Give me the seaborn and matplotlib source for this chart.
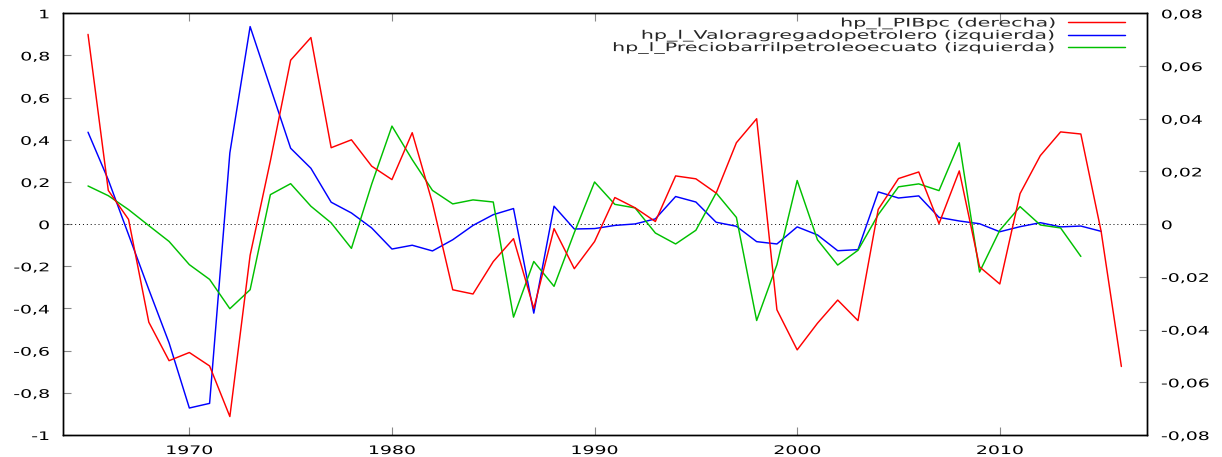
import numpy as np
import pandas as pd
import matplotlib
matplotlib.use("Agg")
import matplotlib.pyplot as plt
import seaborn as sns
from matplotlib.patheffects import AbstractPathEffect
from matplotlib.transforms import Affine2D

# ---------------- data ----------------
years_pib = list(range(1965, 2017))
pib = [0.072, 0.0128, 0.0018, -0.0372, -0.0518, -0.0487, -0.0538, -0.073, -0.0118, 0.024,
       0.0622, 0.0708, 0.029, 0.032, 0.022, 0.0169, 0.0347, 0.0080, -0.0249, -0.0265,
       -0.0142, -0.0055, -0.032, -0.0017, -0.0169, -0.0066, 0.0101, 0.0062, 0.0010, 0.0183,
       0.0172, 0.0118, 0.0309, 0.0400, -0.0325, -0.0477, -0.0376, -0.0288, -0.0366, 0.0056,
       0.0173, 0.0198, 0.0002, 0.0202, -0.0162, -0.0227, 0.0116, 0.0260, 0.0350, 0.0342,
       -0.0027, -0.0540]

years_val = list(range(1965, 2016))
valor = [0.436, 0.21, -0.05, -0.31, -0.563, -0.872, -0.85, 0.338, 0.937, 0.648,
         0.36, 0.265, 0.104, 0.053, -0.018, -0.118, -0.10, -0.127, -0.074, -0.006,
         0.045, 0.074, -0.422, 0.085, -0.023, -0.021, -0.006, 0.001, 0.025, 0.131,
         0.105, 0.009, -0.01, -0.083, -0.094, -0.013, -0.051, -0.126, -0.121, 0.153,
         0.124, 0.134, 0.032, 0.015, 0.002, -0.036, -0.012, 0.007, -0.013, -0.009,
         -0.034]

years_pre = list(range(1965, 2015))
precio = [0.181, 0.135, 0.069, -0.007, -0.082, -0.192, -0.262, -0.401, -0.311, 0.14,
          0.192, 0.085, 0.006, -0.115, 0.19, 0.465, 0.306, 0.16, 0.096, 0.115,
          0.105, -0.441, -0.177, -0.295, -0.04, 0.2, 0.094, 0.077, -0.042, -0.094,
          -0.029, 0.148, 0.032, -0.457, -0.192, 0.207, -0.074, -0.194, -0.124, 0.045,
          0.177, 0.191, 0.159, 0.386, -0.227, -0.029, 0.083, -0.004, -0.018, -0.153]

labels = ["hp_l_PIBpc (derecha)",
          "hp_l_Valoragregadopetrolero (izquierda)",
          "hp_l_Preciobarrilpetroleoecuato (izquierda)"]

x_ticks = [1970, 1980, 1990, 2000, 2010]
x_tick_labels = ["1970", "1980", "1990", "2000", "2010"]
left_ticks = [-1, -0.8, -0.6, -0.4, -0.2, 0, 0.2, 0.4, 0.6, 0.8, 1]
left_tick_labels = ["-1", "-0,8", "-0,6", "-0,4", "-0,2", "0", "0,2", "0,4", "0,6", "0,8", "1"]
right_ticks = [-0.08, -0.06, -0.04, -0.02, 0, 0.02, 0.04, 0.06, 0.08]
right_tick_labels = ["-0,08", "-0,06", "-0,04", "-0,02", "0", "0,02", "0,04", "0,06", "0,08"]

df_pib = pd.DataFrame({"year": years_pib, "value": pib})
df_val = pd.DataFrame({"year": years_val, "value": valor})
df_pre = pd.DataFrame({"year": years_pre, "value": precio})


# horizontal stretch of text glyphs (to mimic the wide gnuplot lettering)
class HStretch(AbstractPathEffect):
    def __init__(self, sx, frac):
        super().__init__()
        self.sx = sx
        self.frac = frac

    def draw_path(self, renderer, gc, tpath, affine, rgbFace=None):
        ext = tpath.get_extents()
        a = ext.x0 + self.frac * (ext.x1 - ext.x0)
        t = Affine2D().translate(-a, 0).scale(self.sx, 1).translate(a, 0) + affine
        renderer.draw_path(gc, tpath, t, rgbFace)


sns.set_theme(style="white")
plt.rcParams["font.family"] = ["DejaVu Sans"]

W, H = 1222, 457
fig = plt.figure(figsize=(W / 100, H / 100), dpi=100)
x0, x1, ytop, ybot = 62.7, 1146.7, 13.3, 435.0
ax = fig.add_axes([x0 / W, 1 - ybot / H, (x1 - x0) / W, (ybot - ytop) / H])
ax2 = ax.twinx()

RED, BLUE, GREEN = "#ff0000", "#0000ff", "#00c000"
LW = 1.05

ax.axhline(0, color="black", lw=0.7, ls=(0, (1, 3)), zorder=1)
sns.lineplot(data=df_val, x="year", y="value", ax=ax, color=BLUE, lw=LW, legend=False)
sns.lineplot(data=df_pre, x="year", y="value", ax=ax, color=GREEN, lw=LW, legend=False)
sns.lineplot(data=df_pib, x="year", y="value", ax=ax2, color=RED, lw=LW, legend=False)

ax.set_xlim(1963.75, 2017.25)
ax.set_ylim(-1, 1)
ax2.set_ylim(-0.08, 0.08)

ax.set_xticks(x_ticks)
ax.set_xticklabels(x_tick_labels)
ax.set_yticks(left_ticks)
ax.set_yticklabels(left_tick_labels)
ax2.set_yticks(right_ticks)
ax2.set_yticklabels(right_tick_labels)

for a in (ax, ax2):
    a.set_xlabel("")
    a.set_ylabel("")
    for s in a.spines.values():
        s.set_visible(True)
        s.set_color("black")
        s.set_linewidth(1.0)

ax.xaxis.set_ticks_position("both")
ax.tick_params(axis="x", which="both", direction="in", length=5.5, width=0.8,
               color="#888888", labelsize=8.5, pad=6.5, labelcolor="black")
ax.tick_params(axis="y", which="both", direction="in", length=5.5, width=0.8,
               color="#888888", labelsize=8.5, pad=9.5, labelcolor="black",
               left=True, right=False)
ax2.tick_params(axis="y", which="both", direction="in", length=5.5, width=0.8,
                color="#888888", labelsize=8.5, pad=10.5, labelcolor="black",
                left=False, right=True)

handles = [ax2.lines[-1], ax.lines[1], ax.lines[2]]
leg = ax2.legend(handles, labels, loc="upper right",
                 bbox_to_anchor=(1125 / W, 1 - 16.5 / H), bbox_transform=fig.transFigure,
                 frameon=False, markerfirst=False, handlelength=4.8, handletextpad=1.1,
                 labelspacing=-0.06, borderpad=0, borderaxespad=0, fontsize=8.5)
for t in leg.get_texts():
    t.set_path_effects([HStretch(1.75, 1.0)])

fig.canvas.draw()
for tk in ax.xaxis.get_major_ticks():
    tk.label1.set_path_effects([HStretch(1.6, 0.5)])
for tk in ax.yaxis.get_major_ticks():
    tk.label1.set_path_effects([HStretch(1.6, 1.0)])
for tk in ax2.yaxis.get_major_ticks():
    tk.label2.set_path_effects([HStretch(1.6, 0.0)])

fig.savefig("out.png", dpi=100, facecolor="white")
